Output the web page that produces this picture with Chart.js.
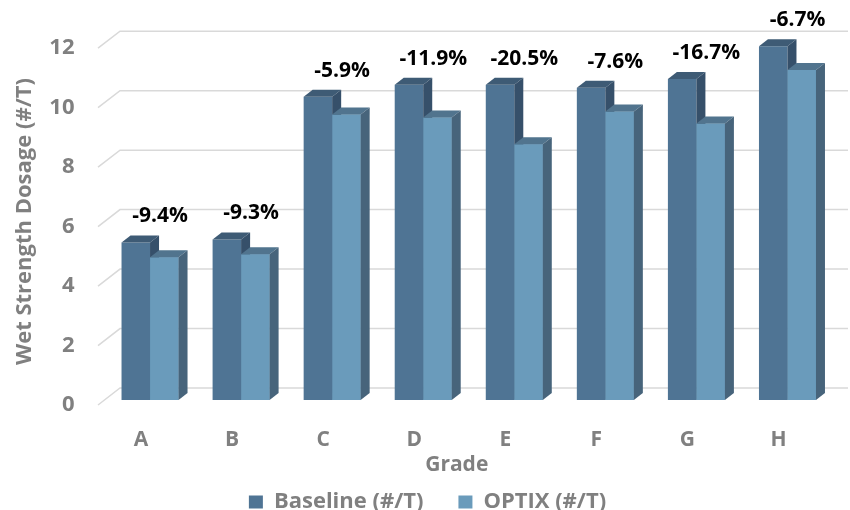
<!DOCTYPE html>
<html>
<head>
<meta charset="utf-8">
<script src="https://cdn.jsdelivr.net/npm/chart.js@4.4.1/dist/chart.umd.min.js"></script>
<style>
html,body{margin:0;padding:0;background:#fff;}
#wrap{width:850px;height:510px;}
</style>
</head>
<body>
<div id="wrap"><canvas id="c" width="850" height="510"></canvas></div>
<script>
const categories = ['A','B','C','D','E','F','G','H'];
const baseline = [5.3, 5.4, 10.2, 10.6, 10.6, 10.5, 10.8, 11.9];
const optix = [4.8, 4.9, 9.6, 9.5, 8.6, 9.7, 9.3, 11.1];
const changeLabels = ['-9.4%','-9.3%','-5.9%','-11.9%','-20.5%','-7.6%','-16.7%','-6.7%'];
const yTicks = [0, 2, 4, 6, 8, 10, 12];
const xTitle = 'Grade';
const yTitle = 'Wet Strength Dosage (#/T)';

const FONT = '"Open Sans"';
const GRAY = '#808080';
const DEPTH_X = 9, DEPTH_Y = -7;       // bar depth
const WALL_X = 22, WALL_Y = -17;       // back wall offset from front edge
const FRONT_SHIFT = 5;                 // front edge of floor below bar base

const faces = [
  {front:'#4F7494', top:'#3E5B75', side:'#36506A'},
  {front:'#6A9BBB', top:'#51748E', side:'#47647B'}
];

function poly(ctx, pts, color){
  ctx.beginPath();
  ctx.moveTo(pts[0][0], pts[0][1]);
  for (let i=1;i<pts.length;i++) ctx.lineTo(pts[i][0], pts[i][1]);
  ctx.closePath();
  ctx.fillStyle = color;
  ctx.fill();
}

const grid3d = {
  id:'grid3d',
  afterLayout(chart){
    const lg = chart.legend;
    if (lg){ lg.left += 11; lg.right += 11; lg.top += 4; lg.bottom += 4; }
  },
  beforeDatasetsDraw(chart){
    const ctx = chart.ctx, y = chart.scales.y, area = chart.chartArea;
    ctx.save();
    ctx.strokeStyle = '#D9D9D9';
    ctx.lineWidth = 1.5;
    const x0 = area.left - 6.5;
    yTicks.forEach(v => {
      const yf = y.getPixelForValue(v) + FRONT_SHIFT;
      ctx.beginPath();
      ctx.moveTo(x0, yf);
      ctx.lineTo(x0 + WALL_X, yf + WALL_Y);
      ctx.lineTo(848, yf + WALL_Y);
      ctx.stroke();
    });
    ctx.restore();
  },
  afterDraw(chart){
    const ctx = chart.ctx, area = chart.chartArea;
    ctx.save();
    ctx.fillStyle = GRAY;
    ctx.font = 'bold 21px ' + FONT;
    ctx.textAlign = 'center';
    ctx.textBaseline = 'middle';
    ctx.fillText(xTitle, (area.left + area.right)/2 - 12, area.bottom + 65);
    ctx.restore();
  }
};

const bars3d = {
  id:'bars3d',
  afterDatasetsDraw(chart){
    const ctx = chart.ctx;
    const m0 = chart.getDatasetMeta(0).data;
    const m1 = chart.getDatasetMeta(1).data;
    ctx.save();
    for (let i=0;i<categories.length;i++){
      [m0[i], m1[i]].forEach((el, d) => {
        const p = el.getProps(['x','y','base','width'], true);
        const l = p.x - p.width/2, r = p.x + p.width/2, t = p.y, b = p.base;
        if (d === 1) poly(ctx, [[l,t],[r,t],[r,b],[l,b]], faces[d].front);
        poly(ctx, [[l,t],[l+DEPTH_X,t+DEPTH_Y],[r+DEPTH_X,t+DEPTH_Y],[r,t]], faces[d].top);
        poly(ctx, [[r,t],[r+DEPTH_X,t+DEPTH_Y],[r+DEPTH_X,b+DEPTH_Y],[r,b]], faces[d].side);
      });
      const p0 = m0[i].getProps(['x','y','width'], true);
      const p1 = m1[i].getProps(['x'], true);
      const cx = (p0.x + p1.x)/2 + 10;
      ctx.fillStyle = '#000';
      ctx.font = 'bold 21px ' + FONT;
      ctx.textAlign = 'center';
      ctx.textBaseline = 'middle';
      ctx.fillText(changeLabels[i], cx, p0.y - 26);
    }
    ctx.restore();
  }
};

new Chart(document.getElementById('c'), {
  type:'bar',
  data:{
    labels: categories,
    datasets:[
      {label:'Baseline (#/T)', data: baseline, backgroundColor: faces[0].front, borderWidth:0},
      {label:'OPTIX (#/T)', data: optix, backgroundColor: faces[1].front, borderWidth:0}
    ]
  },
  options:{
    responsive:false,
    animation:false,
    devicePixelRatio:1,
    layout:{padding:{top:40, right:17, left:0, bottom:-9}},
    datasets:{bar:{categoryPercentage:0.626, barPercentage:1}},
    plugins:{
      tooltip:{enabled:false},
      legend:{
        position:'bottom',
        labels:{
          boxWidth:14, boxHeight:13, padding:35,
          color: GRAY,
          font:{family:FONT, size:22, weight:'bold'}
        }
      }
    },
    scales:{
      x:{
        grid:{display:false, drawTicks:false},
        border:{display:false},
        ticks:{color:GRAY, font:{family:FONT, size:21, weight:'bold'}, padding:27, labelOffset:-9},
        title:{display:false, text:xTitle},
        afterFit(scale){
          const lg = scale.chart.legend;
          scale.height = scale.chart.height + 9 - (lg ? lg.height : 0) - 400;
        }
      },
      y:{
        min:0, max:12,
        grid:{display:false, drawTicks:false},
        border:{display:false},
        ticks:{stepSize:2, color:GRAY, font:{family:FONT, size:22, weight:'bold'}, padding:30, labelOffset:5},
        title:{display:true, text:yTitle, color:GRAY, font:{family:FONT, size:22, weight:'bold'}, padding:{top:12, bottom:0}},
        afterFit(scale){ scale.width = 104.5; }
      }
    }
  },
  plugins:[grid3d, bars3d]
});
</script>
</body>
</html>
